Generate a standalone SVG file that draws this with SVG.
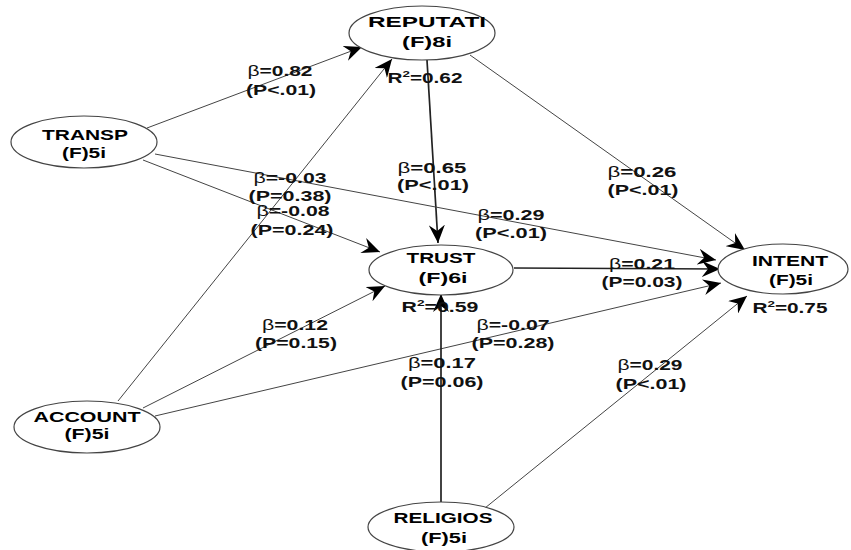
<svg xmlns="http://www.w3.org/2000/svg" width="851" height="550" viewBox="0 0 851 550">
<style>
.bg{fill:#ffffff}
.node ellipse{fill:#ffffff;stroke:#444;stroke-width:1.2}
.nt{font-family:"Liberation Sans",Arial,sans-serif;font-weight:bold;font-size:15px;fill:#000;text-anchor:middle}
.lb{font-family:"Liberation Sans",Arial,sans-serif;font-weight:bold;font-size:14px;fill:#111;text-anchor:middle}
.b{font-weight:normal}
.thin{stroke:#444;stroke-width:1;fill:none}
.thick{stroke:#222;stroke-width:1.7;fill:none}
</style>
<defs>
<marker id="arr" markerUnits="userSpaceOnUse" markerWidth="20" markerHeight="16" refX="18" refY="8" orient="auto">
<path d="M0,0 L18,8 L0,16 L6,8 z" fill="#000"/>
</marker>
</defs>
<rect class="bg" x="0" y="0" width="851" height="550"/>
<g id="connectors">
<line class="thin" x1="147" y1="128" x2="362" y2="47" marker-end="url(#arr)"/>
<line class="thin" x1="118" y1="401" x2="392" y2="59" marker-end="url(#arr)"/>
<line class="thick" x1="427" y1="60" x2="438" y2="243" marker-end="url(#arr)"/>
<line class="thin" x1="470" y1="55" x2="745" y2="250" marker-end="url(#arr)"/>
<line class="thin" x1="155" y1="154" x2="716" y2="260" marker-end="url(#arr)"/>
<line class="thin" x1="143" y1="160" x2="380" y2="252" marker-end="url(#arr)"/>
<line class="thick" x1="514" y1="268" x2="720" y2="269" marker-end="url(#arr)"/>
<line class="thin" x1="143" y1="408" x2="385" y2="286" marker-end="url(#arr)"/>
<line class="thin" x1="155" y1="416" x2="721" y2="283" marker-end="url(#arr)"/>
<line class="thick" x1="441" y1="503" x2="441" y2="294" marker-end="url(#arr)"/>
<line class="thin" x1="485" y1="508" x2="747" y2="296" marker-end="url(#arr)"/>
</g>
<g id="node-reputati" class="node">
<ellipse cx="422" cy="33" rx="73" ry="27"/>
<text class="nt" x="427" y="27" textLength="118" lengthAdjust="spacingAndGlyphs">REPUTATI</text>
<text class="nt" x="427" y="47" textLength="50" lengthAdjust="spacingAndGlyphs">(F)8i</text>
</g>
<g id="node-transp" class="node">
<ellipse cx="84" cy="142" rx="73" ry="26"/>
<text class="nt" x="85" y="140" textLength="86" lengthAdjust="spacingAndGlyphs">TRANSP</text>
<text class="nt" x="84" y="158" textLength="44" lengthAdjust="spacingAndGlyphs">(F)5i</text>
</g>
<g id="node-trust" class="node">
<ellipse cx="441" cy="270" rx="72" ry="25"/>
<text class="nt" x="441" y="263" textLength="69" lengthAdjust="spacingAndGlyphs">TRUST</text>
<text class="nt" x="443" y="283" textLength="49" lengthAdjust="spacingAndGlyphs">(F)6i</text>
</g>
<g id="node-intent" class="node">
<ellipse cx="783" cy="269" rx="65" ry="25"/>
<text class="nt" x="790" y="266" textLength="76" lengthAdjust="spacingAndGlyphs">INTENT</text>
<text class="nt" x="791" y="285" textLength="44" lengthAdjust="spacingAndGlyphs">(F)5i</text>
</g>
<g id="node-account" class="node">
<ellipse cx="87" cy="427" rx="73" ry="26"/>
<text class="nt" x="87" y="422" textLength="107" lengthAdjust="spacingAndGlyphs">ACCOUNT</text>
<text class="nt" x="87" y="439" textLength="45" lengthAdjust="spacingAndGlyphs">(F)5i</text>
</g>
<g id="node-religios" class="node">
<ellipse cx="441" cy="527" rx="73" ry="25"/>
<text class="nt" x="443" y="523" textLength="99" lengthAdjust="spacingAndGlyphs">RELIGIOS</text>
<text class="nt" x="444" y="543" textLength="46" lengthAdjust="spacingAndGlyphs">(F)5i</text>
</g>
<g id="labels">
<text class="lb" x="280" y="76" textLength="65" lengthAdjust="spacingAndGlyphs"><tspan class="b">β</tspan>=0.82</text>
<text class="lb" x="281" y="95" textLength="70" lengthAdjust="spacingAndGlyphs">(P&lt;.01)</text>
<text class="lb" x="290" y="183" textLength="73" lengthAdjust="spacingAndGlyphs"><tspan class="b">β</tspan>=-0.03</text>
<text class="lb" x="290" y="201" textLength="83" lengthAdjust="spacingAndGlyphs">(P=0.38)</text>
<text class="lb" x="293" y="216" textLength="73" lengthAdjust="spacingAndGlyphs"><tspan class="b">β</tspan>=-0.08</text>
<text class="lb" x="292" y="235" textLength="83" lengthAdjust="spacingAndGlyphs">(P=0.24)</text>
<text class="lb" x="432" y="173" textLength="69" lengthAdjust="spacingAndGlyphs"><tspan class="b">β</tspan>=0.65</text>
<text class="lb" x="433" y="190" textLength="72" lengthAdjust="spacingAndGlyphs">(P&lt;.01)</text>
<text class="lb" x="642" y="177" textLength="69" lengthAdjust="spacingAndGlyphs"><tspan class="b">β</tspan>=0.26</text>
<text class="lb" x="643" y="195" textLength="71" lengthAdjust="spacingAndGlyphs">(P&lt;.01)</text>
<text class="lb" x="511" y="220" textLength="67" lengthAdjust="spacingAndGlyphs"><tspan class="b">β</tspan>=0.29</text>
<text class="lb" x="511" y="238" textLength="72" lengthAdjust="spacingAndGlyphs">(P&lt;.01)</text>
<text class="lb" x="642" y="269" textLength="66" lengthAdjust="spacingAndGlyphs"><tspan class="b">β</tspan>=0.21</text>
<text class="lb" x="642" y="287" textLength="81" lengthAdjust="spacingAndGlyphs">(P=0.03)</text>
<text class="lb" x="295" y="330" textLength="66" lengthAdjust="spacingAndGlyphs"><tspan class="b">β</tspan>=0.12</text>
<text class="lb" x="296" y="348" textLength="82" lengthAdjust="spacingAndGlyphs">(P=0.15)</text>
<text class="lb" x="513" y="330" textLength="73" lengthAdjust="spacingAndGlyphs"><tspan class="b">β</tspan>=-0.07</text>
<text class="lb" x="513" y="348" textLength="83" lengthAdjust="spacingAndGlyphs">(P=0.28)</text>
<text class="lb" x="442" y="368" textLength="68" lengthAdjust="spacingAndGlyphs"><tspan class="b">β</tspan>=0.17</text>
<text class="lb" x="442" y="387" textLength="83" lengthAdjust="spacingAndGlyphs">(P=0.06)</text>
<text class="lb" x="650" y="370" textLength="65" lengthAdjust="spacingAndGlyphs"><tspan class="b">β</tspan>=0.29</text>
<text class="lb" x="651" y="389" textLength="71" lengthAdjust="spacingAndGlyphs">(P&lt;.01)</text>
<text class="lb" x="425" y="83" textLength="75" lengthAdjust="spacingAndGlyphs">R<tspan font-size="9" dy="-6">2</tspan><tspan dy="6">=0.62</tspan></text>
<text class="lb" x="440" y="312" textLength="77" lengthAdjust="spacingAndGlyphs">R<tspan font-size="9" dy="-6">2</tspan><tspan dy="6">=0.59</tspan></text>
<text class="lb" x="790" y="313" textLength="75" lengthAdjust="spacingAndGlyphs">R<tspan font-size="9" dy="-6">2</tspan><tspan dy="6">=0.75</tspan></text>
</g>
</svg>
